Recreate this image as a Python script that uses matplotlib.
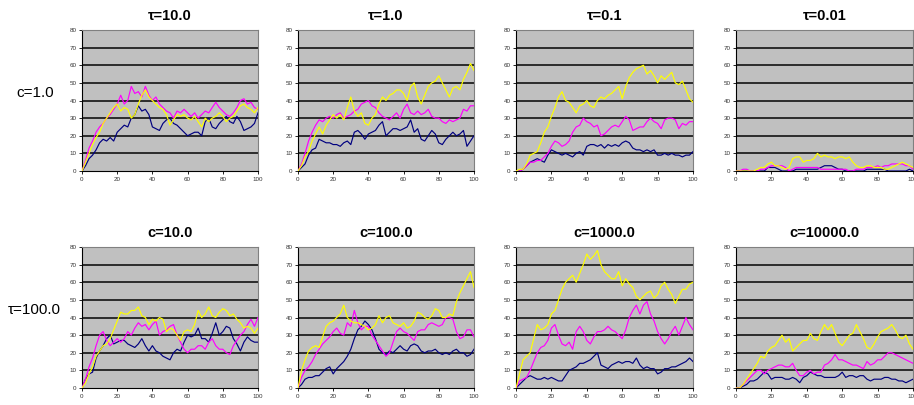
import numpy as np
import matplotlib
matplotlib.use("Agg")
import matplotlib.pyplot as plt

plt.rcParams['font.family'] = ['Liberation Sans', 'DejaVu Sans']

x = list(range(0, 101, 2))

titles_top = ["τ=10.0", "τ=1.0", "τ=0.1", "τ=0.01"]
titles_bottom = ["c=10.0", "c=100.0", "c=1000.0", "c=10000.0"]
row_labels = ["c=1.0", "τ=100.0"]
y_ticks = [0, 10, 20, 30, 40, 50, 60, 70, 80]
x_ticks = [0, 20, 40, 60, 80, 100]

# Row 1
navy_1 = [0,3,7,9,12,16,18,17,19,17,22,24,26,25,30,32,37,34,35,32,25,24,23,27,29,30,27,26,24,22,20,21,22,22,20,28,30,25,24,27,29,31,28,27,31,28,23,24,25,27,33]
mag_1 = [0,6,13,17,22,25,27,30,32,35,38,43,38,40,48,44,45,42,48,43,40,42,38,36,34,33,30,34,33,35,33,31,33,30,32,34,33,36,39,36,34,32,31,33,36,40,41,38,39,36,35]
yel_1 = [0,5,10,15,19,22,27,30,33,36,38,34,36,35,30,32,38,43,46,42,40,38,36,35,32,26,29,32,31,32,30,29,31,28,25,30,28,30,31,33,31,28,30,31,34,37,38,36,35,33,36]

navy_2 = [0,2,4,9,12,13,18,17,16,16,15,15,14,16,17,15,22,23,21,18,21,22,23,26,28,20,22,24,24,23,24,25,29,22,24,18,17,20,23,21,16,15,18,20,22,20,21,23,14,17,20]
mag_2 = [0,4,10,17,22,26,29,28,30,31,30,32,33,30,31,32,34,35,38,39,40,37,36,33,31,30,29,31,33,30,35,38,33,32,34,32,33,35,31,30,30,28,27,29,28,29,30,35,34,37,37]
yel_2 = [0,3,8,11,17,21,25,21,26,29,32,30,32,29,36,42,34,31,33,27,26,30,32,38,42,40,43,44,46,46,44,40,48,50,42,38,43,48,50,51,54,50,46,42,47,48,46,52,56,61,57]

navy_3 = [0,0,1,3,5,6,7,6,5,9,12,11,10,9,10,9,8,10,11,9,14,15,15,14,15,13,15,14,15,14,16,17,16,13,12,12,11,12,11,12,9,9,10,9,10,9,9,8,9,9,11]
mag_3 = [0,0,1,3,5,5,6,6,8,10,14,17,16,14,15,17,22,25,26,30,28,27,25,26,20,21,23,25,26,25,28,31,29,23,24,25,25,28,30,28,27,24,29,30,30,29,24,27,26,28,28]
yel_3 = [0,1,1,4,9,10,11,16,22,25,31,36,42,45,40,39,36,33,37,38,40,37,36,40,42,41,43,44,46,48,41,48,53,56,58,59,60,55,57,54,50,54,52,54,56,50,49,51,46,41,39]

navy_4 = [0,0,0,0,0,0,0,0,0,2,2,2,1,0,0,0,0,1,1,1,1,1,1,1,2,3,3,3,2,1,1,0,0,0,0,0,0,1,1,1,1,1,1,0,0,0,0,0,0,1,0]
mag_4 = [0,0,1,1,0,0,0,1,1,2,3,3,3,3,2,0,1,2,2,2,2,2,2,2,1,1,1,1,1,1,1,1,0,0,1,1,1,2,2,2,3,2,3,3,4,4,4,4,3,3,1]
yel_4 = [0,0,0,0,0,0,1,2,2,4,5,3,3,2,1,2,7,8,8,5,6,6,7,10,8,9,8,8,7,8,8,7,8,5,3,2,2,3,3,2,2,2,1,1,2,3,4,5,4,3,2]

# Row 2
navy_5 = [0,5,8,9,17,21,24,28,30,25,26,27,27,25,24,23,25,28,24,21,24,21,20,18,17,16,20,22,21,26,30,29,30,34,28,28,26,31,37,30,32,35,34,28,25,21,26,29,27,26,26]
mag_5 = [0,5,12,17,24,30,32,27,24,26,28,26,28,32,30,34,37,35,36,33,36,38,30,32,33,35,36,30,26,22,20,22,22,24,24,22,26,28,24,22,22,20,19,24,27,30,32,36,39,35,40]
yel_5 = [0,3,8,12,18,21,24,25,28,33,38,43,42,42,44,44,46,41,40,36,39,38,40,39,32,34,33,30,27,32,33,32,36,44,40,42,46,41,40,43,45,44,41,42,39,37,34,35,34,31,34]

navy_6 = [0,2,5,6,6,7,7,9,11,12,8,11,13,15,18,22,28,33,35,38,36,33,28,22,20,19,21,20,22,24,22,21,24,25,24,21,20,21,21,22,20,19,20,19,21,22,20,20,18,19,22]
mag_6 = [0,6,10,12,15,19,22,25,27,29,32,34,31,30,37,35,44,37,33,35,35,30,27,24,21,18,20,26,32,34,32,31,29,27,32,33,33,36,37,36,35,36,40,40,39,32,28,29,33,33,29]
yel_6 = [0,10,16,21,23,24,23,29,35,37,38,40,42,47,40,38,37,37,36,35,33,34,36,41,37,40,41,37,36,35,37,34,35,38,43,42,40,39,41,45,44,40,40,42,41,49,54,58,62,66,57]

navy_7 = [0,2,4,6,7,6,5,5,6,5,6,5,4,4,7,10,11,12,14,14,15,16,18,20,13,12,11,13,14,15,14,15,15,14,17,13,11,12,11,11,8,9,11,11,12,12,13,14,15,17,15]
mag_7 = [0,4,5,6,10,15,20,23,24,27,34,36,30,25,24,26,22,32,35,32,27,25,29,32,32,33,35,33,32,30,28,33,40,44,47,42,47,49,42,38,32,28,25,28,32,35,30,35,40,36,33]
yel_7 = [0,8,16,18,20,28,36,33,34,36,42,44,50,56,60,62,64,60,65,70,76,73,75,78,70,66,64,62,62,66,58,62,59,57,52,50,52,54,55,51,53,58,60,56,53,48,52,56,56,59,60]

navy_8 = [0,0,1,2,4,4,5,7,9,8,5,6,6,6,5,5,6,5,3,6,7,9,8,7,7,6,6,6,6,7,9,6,7,7,6,7,7,5,4,5,5,5,6,6,5,5,4,4,3,4,5]
mag_8 = [0,0,2,4,6,8,10,10,8,10,11,12,13,13,12,12,14,10,7,7,9,10,8,9,9,13,14,16,19,16,16,15,14,13,13,12,11,15,13,14,16,16,18,20,20,19,18,17,16,15,14]
yel_8 = [0,0,2,5,8,11,14,18,17,21,23,24,27,30,26,28,21,23,25,27,27,31,28,27,32,36,33,36,31,26,24,27,30,31,36,32,28,23,22,25,29,32,33,34,36,33,29,28,30,25,22]

panels = [
    (navy_1, mag_1, yel_1), (navy_2, mag_2, yel_2), (navy_3, mag_3, yel_3), (navy_4, mag_4, yel_4),
    (navy_5, mag_5, yel_5), (navy_6, mag_6, yel_6), (navy_7, mag_7, yel_7), (navy_8, mag_8, yel_8),
]
titles = titles_top + titles_bottom

W, H = 914, 405
fig = plt.figure(figsize=(W / 100, H / 100), dpi=100)
fig.patch.set_facecolor('white')

col_px = [(82, 258), (298, 474), (516, 693), (736, 913)]
row_px = [(30, 171), (247, 388)]

for i, (nv, mg, yl) in enumerate(panels):
    r, c = divmod(i, 4)
    x0, x1 = col_px[c]
    top, bot = row_px[r]
    ax = fig.add_axes([x0 / W, 1 - bot / H, (x1 - x0) / W, (bot - top) / H])
    ax.set_facecolor('#C0C0C0')
    ax.set_xlim(0, 100)
    ax.set_ylim(0, 80)
    ax.set_yticks(y_ticks)
    ax.set_xticks(x_ticks)
    ax.set_yticklabels([str(v) for v in y_ticks])
    ax.set_xticklabels([str(v) for v in x_ticks])
    for v in y_ticks[1:]:
        ax.axhline(v, color='#202020', lw=1.3, zorder=1)
    ax.plot(x, nv, color='#000080', lw=0.85, zorder=3)
    ax.plot(x, mg, color='#FF00FF', lw=0.85, zorder=4)
    ax.plot(x, yl, color='#FFFF00', lw=0.85, zorder=5)
    ax.tick_params(axis='both', labelsize=4.5, length=2.5, width=0.6,
                   colors='#000000', labelcolor='#333333', pad=1.5)
    for s in ['left', 'bottom']:
        ax.spines[s].set_color('#000000')
        ax.spines[s].set_linewidth(0.8)
    for s in ['right', 'top']:
        ax.spines[s].set_color('#808080')
        ax.spines[s].set_linewidth(0.8)
    ax.set_title(titles[i], fontsize=10.5, fontweight='bold', pad=7)

fig.text(35 / W, 1 - 93 / H, row_labels[0], fontsize=11, ha='center', va='center')
fig.text(34 / W, 1 - 310 / H, row_labels[1], fontsize=11, ha='center', va='center')

fig.savefig('out.png', dpi=100)
